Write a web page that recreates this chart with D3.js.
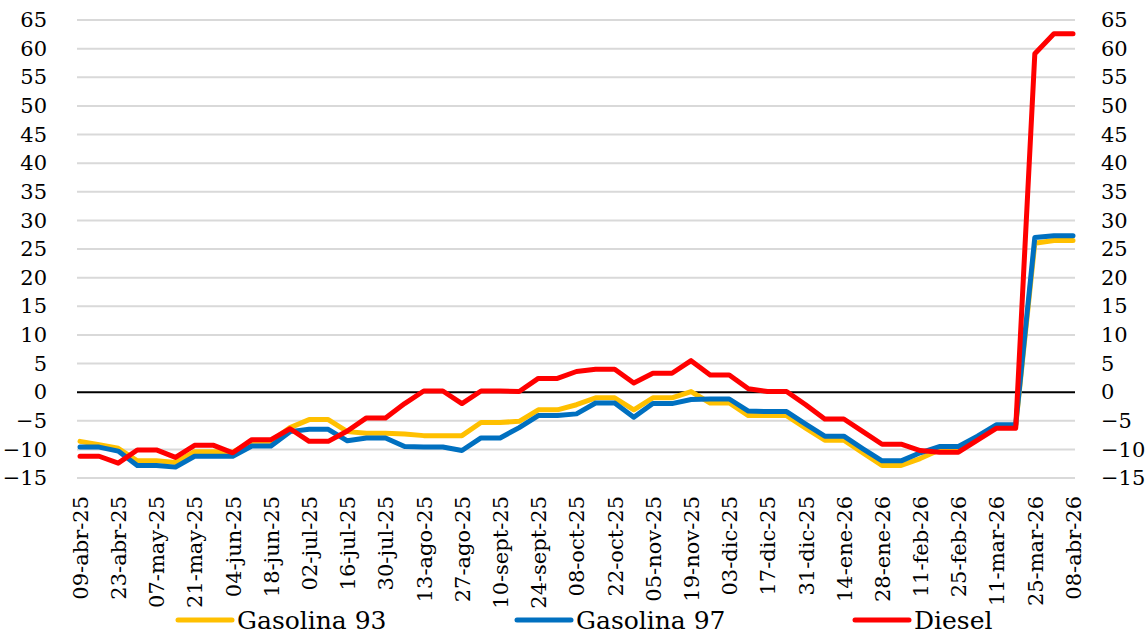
<!DOCTYPE html>
<html>
<head>
<meta charset="utf-8">
<script src="https://cdn.jsdelivr.net/npm/d3@7"></script>
<style>
  body { margin: 0; background: #fff; }
  svg text { font-family: "DejaVu Serif", serif; fill: #000; }
</style>
</head>
<body>
<div class="chart"></div>
<script>
// weekly dates
const fechas = [
  "09-abr-25","16-abr-25","23-abr-25","30-abr-25","07-may-25","14-may-25","21-may-25","28-may-25",
  "04-jun-25","11-jun-25","18-jun-25","25-jun-25","02-jul-25","09-jul-25","16-jul-25","23-jul-25",
  "30-jul-25","06-ago-25","13-ago-25","20-ago-25","27-ago-25","03-sept-25","10-sept-25","17-sept-25",
  "24-sept-25","01-oct-25","08-oct-25","15-oct-25","22-oct-25","29-oct-25","05-nov-25","12-nov-25",
  "19-nov-25","26-nov-25","03-dic-25","10-dic-25","17-dic-25","24-dic-25","31-dic-25","07-ene-26",
  "14-ene-26","21-ene-26","28-ene-26","04-feb-26","11-feb-26","18-feb-26","25-feb-26","04-mar-26",
  "11-mar-26","18-mar-26","25-mar-26","01-abr-26","08-abr-26"
];

// only every other week gets a label
const tickLabels = [
  "09-abr-25","23-abr-25","07-may-25","21-may-25","04-jun-25","18-jun-25","02-jul-25","16-jul-25",
  "30-jul-25","13-ago-25","27-ago-25","10-sept-25","24-sept-25","08-oct-25","22-oct-25","05-nov-25",
  "19-nov-25","03-dic-25","17-dic-25","31-dic-25","14-ene-26","28-ene-26","11-feb-26","25-feb-26",
  "11-mar-26","25-mar-26","08-abr-26"
];

const yTicks = [-15,-10,-5,0,5,10,15,20,25,30,35,40,45,50,55,60,65];

const gas93 = [-8.6,-9.2,-9.8,-12.0,-12.0,-12.3,-10.4,-10.4,-10.5,-8.6,-8.6,-6.2,-4.8,-4.8,-6.9,-7.2,
  -7.2,-7.3,-7.6,-7.6,-7.6,-5.3,-5.3,-5.1,-3.1,-3.1,-2.2,-1.0,-1.0,-3.1,-1.0,-1.0,0.1,-1.9,-1.9,
  -4.1,-4.1,-4.1,-6.3,-8.4,-8.4,-10.6,-12.8,-12.8,-11.6,-10.1,-10.1,-8.0,-5.9,-5.9,26.0,26.5,26.5];

const gas97 = [-9.6,-9.6,-10.3,-12.8,-12.8,-13.1,-11.2,-11.2,-11.2,-9.4,-9.4,-6.9,-6.5,-6.5,-8.5,-8.0,
  -8.0,-9.5,-9.6,-9.6,-10.2,-8.0,-8.0,-6.2,-4.1,-4.1,-3.8,-1.9,-1.9,-4.4,-2.0,-2.0,-1.3,-1.2,-1.2,
  -3.3,-3.4,-3.4,-5.6,-7.7,-7.7,-9.9,-12.0,-12.0,-10.6,-9.5,-9.5,-7.7,-5.7,-5.7,27.0,27.3,27.3];

const diesel = [-11.2,-11.2,-12.4,-10.1,-10.1,-11.4,-9.3,-9.3,-10.6,-8.3,-8.3,-6.4,-8.6,-8.6,-6.8,-4.5,
  -4.5,-2.0,0.2,0.2,-2.0,0.2,0.2,0.1,2.4,2.4,3.6,4.0,4.0,1.6,3.3,3.3,5.5,3.0,3.0,
  0.6,0.1,0.1,-2.2,-4.7,-4.7,-6.9,-9.1,-9.1,-10.2,-10.5,-10.5,-8.4,-6.3,-6.3,59.1,62.6,62.6];

const series = [
  {name: "Gasolina 93", values: gas93, color: "#FFC000"},
  {name: "Gasolina 97", values: gas97, color: "#0070C0"},
  {name: "Diesel", values: diesel, color: "#FF0000"}
];

const svg = d3.select(".chart").append("svg")
  .attr("width", 1146)
  .attr("height", 635);

const x = d3.scalePoint().domain(fechas).range([80, 1073]);
const y = d3.scaleLinear().domain([-15, 65]).range([478, 20]);

// horizontal gridlines
svg.append("g").selectAll("line")
  .data(yTicks.filter(d => d !== 0))
  .join("line")
  .attr("x1", 77).attr("x2", 1075)
  .attr("y1", d => y(d)).attr("y2", d => y(d))
  .attr("stroke", "#d9d9d9")
  .attr("stroke-width", 2);

// zero line
svg.append("line")
  .attr("x1", 77).attr("x2", 1075)
  .attr("y1", y(0)).attr("y2", y(0))
  .attr("stroke", "#000")
  .attr("stroke-width", 2);

// left + right y labels
const yLeft = d3.axisLeft(y).tickValues(yTicks).tickSize(0).tickPadding(0);
const gl = svg.append("g").attr("transform", "translate(47,0)").call(yLeft);
const yRight = d3.axisRight(y).tickValues(yTicks).tickSize(0).tickPadding(0);
const gr = svg.append("g").attr("transform", "translate(1101,0)").call(yRight);
[gl, gr].forEach(g => {
  g.select(".domain").remove();
  g.attr("font-family", null);
  g.selectAll("text").attr("font-size", 21);
});

// x labels, rotated
const xAxis = d3.axisBottom(x).tickValues(tickLabels).tickSize(0).tickPadding(0);
const gx = svg.append("g").attr("transform", "translate(0,496)").call(xAxis);
gx.select(".domain").remove();
gx.attr("font-family", null);
gx.selectAll("text")
  .attr("font-size", 21)
  .attr("transform", "rotate(-90)")
  .attr("text-anchor", "end")
  .attr("x", 0)
  .attr("y", 0)
  .attr("dy", "0.35em");

// the lines
const line = d3.line()
  .x((d, i) => x(fechas[i]))
  .y(d => y(d));

svg.append("g").selectAll("path")
  .data(series)
  .join("path")
  .attr("d", d => line(d.values))
  .attr("fill", "none")
  .attr("stroke", d => d.color)
  .attr("stroke-width", 5)
  .attr("stroke-linejoin", "round")
  .attr("stroke-linecap", "round");

// legend
const legX = [178, 517, 855];
const leg = svg.append("g").selectAll("g")
  .data(series)
  .join("g")
  .attr("transform", (d, i) => `translate(${legX[i]},620)`);
leg.append("line")
  .attr("x1", 0).attr("x2", 54)
  .attr("stroke", d => d.color)
  .attr("stroke-width", 5)
  .attr("stroke-linecap", "round");
leg.append("text")
  .text(d => d.name)
  .attr("x", 59)
  .attr("y", 9)
  .attr("font-size", 25);
</script>
</body>
</html>
